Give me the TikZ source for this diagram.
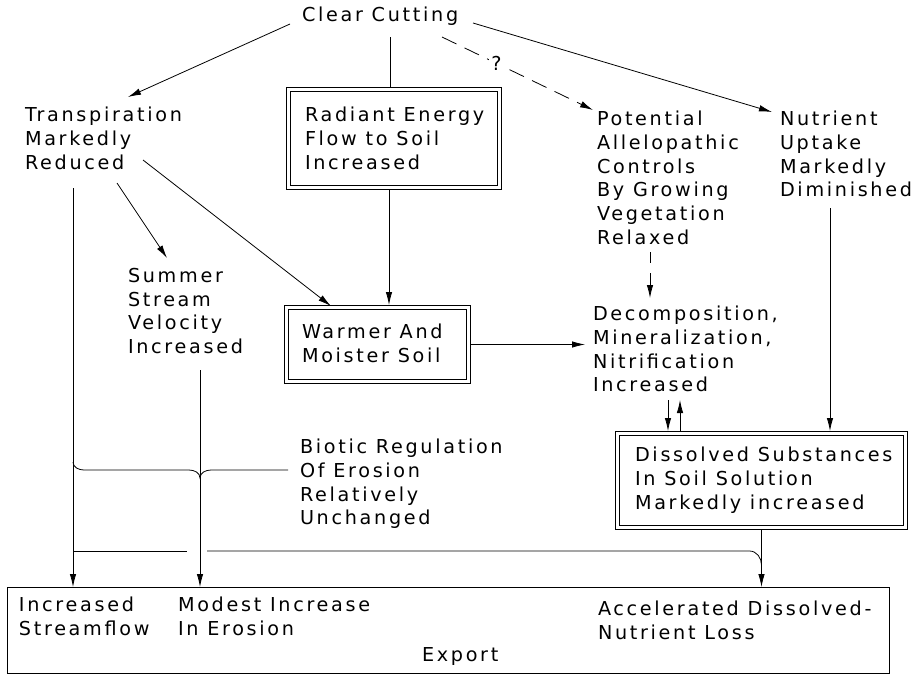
\documentclass[tikz,border=0pt]{standalone}
\usepackage{fontspec}
\setmainfont[LetterSpace=14]{DejaVu Sans}
\usetikzlibrary{arrows.meta,calc}
\pgfdeclarelayer{bg}
\pgfsetlayers{bg,main}
\begin{document}
\begin{tikzpicture}[x=1pt,y=1pt,
  txt/.style={anchor=north west, inner sep=0pt, outer sep=0pt, align=left, font=\fontsize{19.2}{23.8}\selectfont},
  arr/.style={-{Latex[length=13pt,width=6.5pt]}},
  dbox/.style={draw, double, double distance=3.6pt, line width=0.8pt, rectangle, inner sep=0pt, outer sep=0pt},
  sbox/.style={draw, line width=0.9pt, rectangle, inner sep=0pt, outer sep=0pt},
  tob/.style={shorten >=2.6pt},
  conn/.style={line width=0.8pt}
]
\useasboundingbox (0,0) rectangle (911,-675);

% boxes
\node[dbox, minimum width=210.8pt, minimum height=97.8pt] (rad) at (394,-138.5) {};
\node[dbox, minimum width=181.8pt, minimum height=73.8pt] (warm) at (377.5,-344.5) {};
\node[dbox, minimum width=287.8pt, minimum height=93.8pt] (diss) at (761.5,-480.5) {};
\node[sbox, minimum width=882pt, minimum height=86pt] (expbox) at (448,-630) {};

% texts
\node[txt] (cc) at (302,-7) {Clear Cutting};
\node[txt] (trans) at (25,-107) {Transpiration\\Markedly\\Reduced};
\node[txt] (radt) at (305,-107) {Radiant Energy\\Flow to Soil\\Increased};
\node[txt] (pot) at (597,-111) {Potential\\Allelopathic\\Controls\\By Growing\\Vegetation\\Relaxed};
\node[txt] (nut) at (780,-111) {Nutrient\\Uptake\\Markedly\\Diminished};
\node[txt] (summ) at (128,-268) {Summer\\Stream\\Velocity\\Increased};
\node[txt] (warmt) at (302,-324) {Warmer And\\Moister Soil};
\node[txt] (dec) at (593,-306) {Decomposition,\\Mineralization,\\Nitrification\\Increased};
\node[txt] (disst) at (635,-447) {Dissolved Substances\\In Soil Solution\\Markedly increased};
\node[txt] (bio) at (300,-439) {Biotic Regulation\\Of Erosion\\Relatively\\Unchanged};
\node[txt] (incs) at (19,-597) {Increased\\Streamflow};
\node[txt] (mod) at (178,-597) {Modest Increase\\In Erosion};
\node[txt] (acc) at (598,-601) {Accelerated Dissolved-\\Nutrient Loss};
\node[txt] (exp) at (422,-647) {Export};

% helper coordinates
\coordinate (c1) at ($(cc.north west)+(88,-30)$);
\coordinate (c2) at ($(trans.north west)+(48,-81)$);
\coordinate (c3) at ($(summ.north west)+(72,-102)$);
\coordinate (c4) at ([xshift=-5pt]rad.south);
\coordinate (c5) at (warm.east -| dec.west);
\coordinate (c6) at ($(dec.north west)+(75,-94)$);
\coordinate (c7) at ($(dec.north west)+(87,-94)$);
\coordinate (c8) at ($(nut.north west)+(50,-97)$);
\coordinate (hy) at (0,-551);
\coordinate (h1) at (c3 |- hy);
\coordinate (h2) at (diss.south |- hy);
\coordinate (by) at (0,-470);
\coordinate (b1) at (c2 |- by);
\coordinate (b2) at (c3 |- by);
\coordinate (b3) at (bio.west |- by);

\begin{pgfonlayer}{bg}
\draw[conn,arr] ($(cc.north west)+(-12,-17)$) -- ($(trans.north west)+(103,10)$);
\draw[conn] (c1) -- (c1 |- rad.north);
\draw[conn,arr,dash pattern=on 16pt off 9pt] ($(cc.north west)+(140,-30)$) -- node[pos=0.36, fill=white, inner sep=2pt, font=\fontsize{19.2}{22}\selectfont] (q) {?} ($(pot.north west)+(-4,1)$);
\draw[conn,arr] ($(cc.north west)+(171,-16)$) -- ($(nut.north west)+(-8,-1)$);
\draw[conn,arr] ($(trans.north west)+(92,-76)$) -- ($(summ.north west)+(39,10)$);
\draw[conn,arr,tob] ($(trans.north west)+(118,-53)$) -- ($(warm.north west)+(46.4,0)$);
\draw[conn,arr] (c2) -- (c2 |- expbox.north);
\draw[conn,arr] (c3) -- (c3 |- expbox.north);
\draw[conn,arr,tob] (c4) -- (c4 |- warm.north);
\draw[conn,arr] (warm.east) -- ([xshift=-8pt]c5);
\draw[conn,arr,dash pattern=on 11pt off 10pt on 40pt off 0pt] ($(pot.north west)+(53,-141)$) -- ($(dec.north west)+(57,8)$);
\draw[conn,arr,tob] (c6) -- (c6 |- diss.north);
\draw[conn,arr] (c7 |- diss.north) -- (c7);
\draw[conn,arr,tob] (c8) -- (c8 |- diss.north);
\draw[conn,arr] (diss.south) -- (diss.south |- expbox.north);
\draw[conn] (c2 |- hy) -- ([xshift=-13pt]h1);
\draw[conn] ([xshift=7pt]h1) -- ([xshift=-12pt]h2) to[out=0,in=90] ([yshift=-14pt]h2);
\draw[conn] ([yshift=8pt]b1) to[out=-90,in=180] ([xshift=11pt]b1) -- ([xshift=-11pt]b2) to[out=0,in=90] ([yshift=-8pt]b2) to[out=90,in=180] ([xshift=11pt]b2) -- ([xshift=-12pt]b3);
\end{pgfonlayer}
\end{tikzpicture}
\end{document}
